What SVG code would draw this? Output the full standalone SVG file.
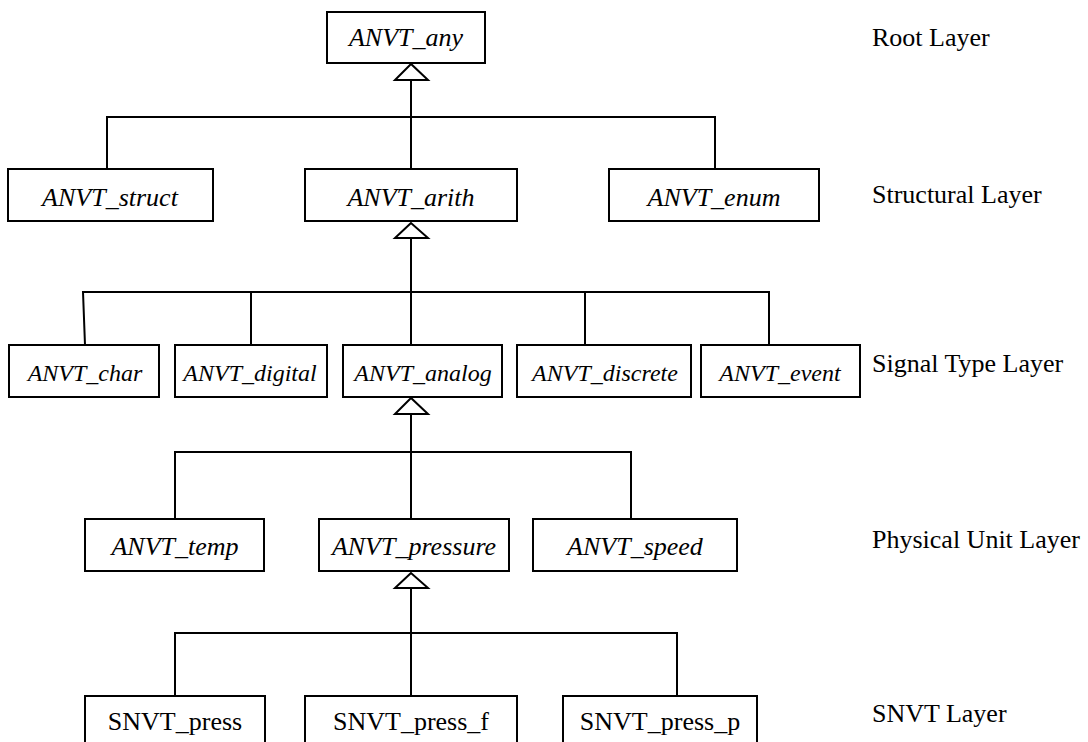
<svg xmlns="http://www.w3.org/2000/svg" width="1088" height="742" viewBox="0 0 1088 742">
  <style>
    .box { fill: #fff; stroke: #000; stroke-width: 2; }
    .lbl { font-family: "Liberation Serif", "Times New Roman", serif; font-size: 26px; fill: #000; text-anchor: middle; }
    .it { font-style: italic; }
    .sm { font-size: 24px; }
    .layer { font-family: "Liberation Serif", "Times New Roman", serif; font-size: 26px; fill: #000; }
    .wire { fill: none; stroke: #000; stroke-width: 2; }
    .gen { fill: #fff; stroke: #000; stroke-width: 2; stroke-linejoin: miter; }
  </style>

  <!-- inheritance connectors -->
  <g id="connectors">
    <!-- root -> structural -->
    <path class="wire" d="M411 80 V169 M107 169 V117 H715 V169"/>
    <polygon class="gen" points="411,64 395,80 428,80"/>
    <!-- arith -> signal types -->
    <path class="wire" d="M411 238 V345 M85 345 L83 292 H769 V345 M251 292 V345 M585 292 V345"/>
    <polygon class="gen" points="411,223 395,238 428,238"/>
    <!-- analog -> physical units -->
    <path class="wire" d="M411 414 V519 M175 519 V452 H631 V519"/>
    <polygon class="gen" points="411,398 395,414 428,414"/>
    <!-- pressure -> SNVT -->
    <path class="wire" d="M411 588 V696 M175 696 V633 H677 V696"/>
    <polygon class="gen" points="411,573 395,588 428,588"/>
  </g>

  <!-- root layer -->
  <g id="anvt_any"><rect class="box" x="327" y="12" width="158" height="51"/><text class="lbl it" x="406" y="46">ANVT_any</text></g>

  <!-- structural layer -->
  <g id="anvt_struct"><rect class="box" x="8" y="169" width="205" height="52"/><text class="lbl it" x="110" y="206">ANVT_struct</text></g>
  <g id="anvt_arith"><rect class="box" x="305" y="169" width="212" height="52"/><text class="lbl it" x="411" y="206">ANVT_arith</text></g>
  <g id="anvt_enum"><rect class="box" x="609" y="169" width="210" height="52"/><text class="lbl it" x="714" y="206">ANVT_enum</text></g>

  <!-- signal type layer -->
  <g id="anvt_char"><rect class="box" x="9" y="345" width="150" height="52"/><text class="lbl it sm" x="85" y="381">ANVT_char</text></g>
  <g id="anvt_digital"><rect class="box" x="175" y="345" width="152" height="52"/><text class="lbl it sm" x="250" y="381">ANVT_digital</text></g>
  <g id="anvt_analog"><rect class="box" x="343" y="345" width="159" height="52"/><text class="lbl it sm" x="423" y="381">ANVT_analog</text></g>
  <g id="anvt_discrete"><rect class="box" x="517" y="345" width="174" height="52"/><text class="lbl it sm" x="605" y="381">ANVT_discrete</text></g>
  <g id="anvt_event"><rect class="box" x="701" y="345" width="159" height="52"/><text class="lbl it sm" x="780" y="381">ANVT_event</text></g>

  <!-- physical unit layer -->
  <g id="anvt_temp"><rect class="box" x="85" y="519" width="179" height="52"/><text class="lbl it" x="175" y="555">ANVT_temp</text></g>
  <g id="anvt_pressure"><rect class="box" x="319" y="519" width="190" height="52"/><text class="lbl it" x="414" y="555">ANVT_pressure</text></g>
  <g id="anvt_speed"><rect class="box" x="533" y="519" width="204" height="52"/><text class="lbl it" x="635" y="555">ANVT_speed</text></g>

  <!-- SNVT layer -->
  <g id="snvt_press"><rect class="box" x="85" y="696" width="180" height="52"/><text class="lbl" x="175" y="730">SNVT_press</text></g>
  <g id="snvt_press_f"><rect class="box" x="305" y="696" width="212" height="52"/><text class="lbl" x="411" y="730">SNVT_press_f</text></g>
  <g id="snvt_press_p"><rect class="box" x="563" y="696" width="194" height="52"/><text class="lbl" x="660" y="730">SNVT_press_p</text></g>

  <!-- layer captions -->
  <g id="layer_labels">
    <text class="layer" x="872" y="46">Root Layer</text>
    <text class="layer" x="872" y="203">Structural Layer</text>
    <text class="layer" x="872" y="372">Signal Type Layer</text>
    <text class="layer" x="872" y="548">Physical Unit Layer</text>
    <text class="layer" x="872" y="722">SNVT Layer</text>
  </g>
</svg>
